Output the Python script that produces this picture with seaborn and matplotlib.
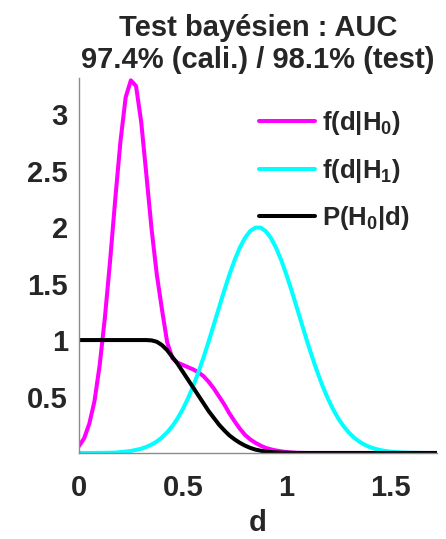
import numpy as np
import pandas as pd
import matplotlib
matplotlib.use("Agg")
import matplotlib.pyplot as plt
import seaborn as sns

# ---- data ----
d = [round(0.025 * i, 3) for i in range(70)]  # 0 .. 1.725

f_h0 = [0.06, 0.13, 0.26, 0.46, 0.78, 1.20, 1.70, 2.25, 2.76, 3.15,
        3.30, 3.25, 2.93, 2.46, 1.98, 1.58, 1.27, 0.98, 0.84, 0.80,
        0.78, 0.76, 0.74, 0.715, 0.68, 0.63, 0.57, 0.50, 0.43, 0.35,
        0.28, 0.215, 0.16, 0.12, 0.09, 0.065, 0.045, 0.032, 0.022, 0.014,
        0.008, 0.004, 0.002, 0.001, 0.0, 0.0, 0.0, 0.0, 0.0, 0.0,
        0.0, 0.0, 0.0, 0.0, 0.0, 0.0, 0.0, 0.0, 0.0, 0.0,
        0.0, 0.0, 0.0, 0.0, 0.0, 0.0, 0.0, 0.0, 0.0, 0.0]

f_h1 = [0.0, 0.0, 0.0, 0.0, 0.001, 0.001, 0.002, 0.003, 0.008, 0.012,
        0.018, 0.027, 0.038, 0.054, 0.075, 0.102, 0.138, 0.183, 0.238, 0.306,
        0.387, 0.482, 0.590, 0.713, 0.846, 0.989, 1.139, 1.290, 1.439, 1.581,
        1.709, 1.819, 1.906, 1.966, 1.996, 1.996, 1.964, 1.903, 1.815, 1.704,
        1.575, 1.434, 1.284, 1.133, 0.983, 0.841, 0.708, 0.586, 0.478, 0.384,
        0.303, 0.236, 0.181, 0.136, 0.101, 0.074, 0.053, 0.038, 0.026, 0.018,
        0.012, 0.008, 0.005, 0.003, 0.002, 0.001, 0.0, 0.0, 0.0, 0.0]

p_h0 = [1.0, 1.0, 1.0, 1.0, 1.0, 1.0, 1.0, 1.0, 1.0, 1.0,
        1.0, 1.0, 1.0, 1.0, 0.997, 0.985, 0.955, 0.91, 0.85, 0.79,
        0.72, 0.65, 0.58, 0.51, 0.44, 0.37, 0.31, 0.25, 0.20, 0.155,
        0.12, 0.09, 0.065, 0.045, 0.03, 0.02, 0.013, 0.008, 0.005, 0.003,
        0.002, 0.001, 0.0, 0.0, 0.0, 0.0, 0.0, 0.0, 0.0, 0.0,
        0.0, 0.0, 0.0, 0.0, 0.0, 0.0, 0.0, 0.0, 0.0, 0.0,
        0.0, 0.0, 0.0, 0.0, 0.0, 0.0, 0.0, 0.0, 0.0, 0.0]

labels = [r"f(d|H$_0$)", r"f(d|H$_1$)", r"P(H$_0$|d)"]
colors = ["#FF00FF", "#00FFFF", "#000000"]
x_ticks = [0, 0.5, 1, 1.5]
x_ticklabels = ["0", "0.5", "1", "1.5"]
y_ticks = [0.5, 1, 1.5, 2, 2.5, 3]
y_ticklabels = ["0.5", "1", "1.5", "2", "2.5", "3"]
title = "Test bayésien : AUC\n97.4% (cali.) / 98.1% (test)"

# ---- build long-form table ----
df = pd.concat([
    pd.DataFrame({"d": d, "v": f_h0, "curve": labels[0]}),
    pd.DataFrame({"d": d, "v": f_h1, "curve": labels[1]}),
    pd.DataFrame({"d": d, "v": p_h0, "curve": labels[2]}),
], ignore_index=True)

sns.set_style("white")
plt.rcParams["font.family"] = ["Liberation Sans", "DejaVu Sans"]
plt.rcParams["font.weight"] = "bold"
plt.rcParams["mathtext.default"] = "regular"
plt.rcParams["lines.solid_joinstyle"] = "round"

fig = plt.figure(figsize=(4.46, 5.39), dpi=100)
ax = fig.add_axes([0.177, 0.1596, 0.803, 0.6955])

sns.lineplot(data=df, x="d", y="v", hue="curve", hue_order=labels,
             palette=dict(zip(labels, colors)), estimator=None,
             linewidth=2.9, ax=ax)

ax.set_xlim(0, 1.725)
ax.set_ylim(0, 3.32)
ax.set_xticks(x_ticks)
ax.set_xticklabels(x_ticklabels)
ax.set_yticks(y_ticks)
ax.set_yticklabels(y_ticklabels)

for s in ["top", "right"]:
    ax.spines[s].set_visible(False)
for s in ["left", "bottom"]:
    ax.spines[s].set_color("#8c8c8c")
    ax.spines[s].set_linewidth(1.0)
ax.tick_params(direction="in", length=4, width=1, color="#8c8c8c",
               labelsize=21, labelcolor="#262626")
ax.tick_params(axis="y", pad=8)
ax.tick_params(axis="x", pad=15)
for lab in ax.get_xticklabels() + ax.get_yticklabels():
    lab.set_fontweight("bold")

ax.set_xlabel("d", fontsize=21, fontweight="bold", color="#262626", labelpad=5)
ax.set_ylabel("")
ax.set_title(title, fontsize=21, fontweight="bold", pad=7, linespacing=1.2)

leg = ax.legend(loc="upper left", bbox_to_anchor=(0.475, 0.944), frameon=False,
                fontsize=18.5, handlelength=2.18, handletextpad=0.27,
                labelspacing=0.76, borderaxespad=0)
for t in leg.get_texts():
    t.set_fontweight("bold")
for h in leg.get_lines():
    h.set_linewidth(2.9)

fig.savefig("out.png", dpi=100)
